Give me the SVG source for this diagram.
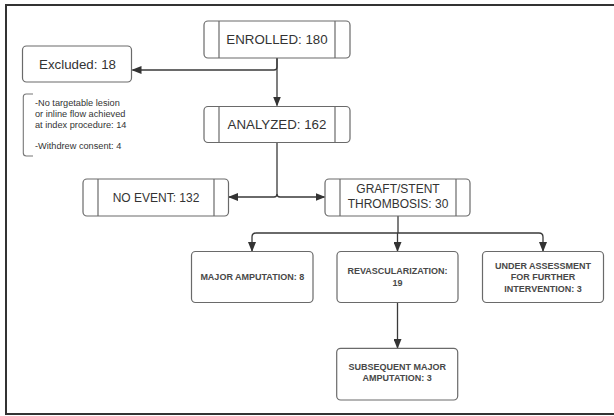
<svg xmlns="http://www.w3.org/2000/svg" width="614" height="416" viewBox="0 0 614 416">
<style>
.box{fill:#fff;stroke:#6a6a6a;stroke-width:1.2}
.in{stroke:#6a6a6a;stroke-width:1.2}
.t{font-family:"Liberation Sans",Arial,sans-serif;fill:#333;text-anchor:middle;dominant-baseline:central}
.big{font-size:13.3px}
.mid{font-size:12px}
.sm{font-size:9px;font-weight:bold;fill:#484848}
.note{font-family:"Liberation Sans",Arial,sans-serif;font-size:9.2px;fill:#333;dominant-baseline:central}
.c{fill:none;stroke:#3a3a3a;stroke-width:1.3}
</style>
<defs>
<marker id="ah" markerWidth="10" markerHeight="8" refX="9" refY="4" orient="auto" markerUnits="userSpaceOnUse">
<path d="M0,0 L10,4 L0,8 Z" fill="#333"/>
</marker>
</defs>
<rect width="614" height="416" fill="#fff"/>
<path d="M614,5 H6 V414 H614" fill="none" stroke="#333" stroke-width="2"/>

<g id="connectors">
<path class="c" d="M277,58 V105.5" marker-end="url(#ah)"/>
<path class="c" d="M277,58 V67 Q277,70 274,70 H132.5" marker-end="url(#ah)"/>
<path class="c" d="M277,142.5 V194 Q277,197 274,197 H229" marker-end="url(#ah)"/>
<path class="c" d="M277,194 Q277,197 280,197 H324.5" marker-end="url(#ah)"/>
<path class="c" d="M398,216 V233"/>
<path class="c" d="M398,233 H256 Q252,233 252,237 V251" marker-end="url(#ah)"/>
<path class="c" d="M398,233 H539 Q543,233 543,237 V251" marker-end="url(#ah)"/>
<path class="c" d="M397.5,233 V251" marker-end="url(#ah)"/>
<path class="c" d="M397.5,302.5 V348" marker-end="url(#ah)"/>
</g>

<g id="enrolled">
<rect class="box" x="204" y="21" width="146" height="37" rx="4"/>
<line class="in" x1="219" y1="21" x2="219" y2="58"/>
<line class="in" x1="335" y1="21" x2="335" y2="58"/>
<text class="t big" x="277" y="39.5">ENROLLED: 180</text>
</g>

<g id="excluded">
<rect class="box" x="22.5" y="46" width="109" height="36" rx="4"/>
<text class="t big" x="77.5" y="64">Excluded: 18</text>
</g>

<g id="exclusion-note">
<path d="M33,94 H26.3 Q23.3,94 23.3,97 V153 Q23.3,156 26.3,156 H33" fill="none" stroke="#777" stroke-width="1.1"/>
<text class="note" x="35" y="102.5">-No targetable lesion</text>
<text class="note" x="35" y="113.5">or inline flow achieved</text>
<text class="note" x="35" y="124.5">at index procedure: 14</text>
<text class="note" x="35" y="146">-Withdrew consent: 4</text>
</g>

<g id="analyzed">
<rect class="box" x="204" y="106.5" width="146" height="36" rx="4"/>
<line class="in" x1="219" y1="106.5" x2="219" y2="142.5"/>
<line class="in" x1="335" y1="106.5" x2="335" y2="142.5"/>
<text class="t big" x="277" y="124.5">ANALYZED: 162</text>
</g>

<g id="no-event">
<rect class="box" x="83" y="179" width="145.5" height="37" rx="4"/>
<line class="in" x1="98" y1="179" x2="98" y2="216"/>
<line class="in" x1="214" y1="179" x2="214" y2="216"/>
<text class="t mid" x="156" y="197.5">NO EVENT: 132</text>
</g>

<g id="thrombosis">
<rect class="box" x="325" y="179" width="145" height="37" rx="4"/>
<line class="in" x1="340" y1="179" x2="340" y2="216"/>
<line class="in" x1="456" y1="179" x2="456" y2="216"/>
<text class="t mid" x="398" y="188.5">GRAFT/STENT</text>
<text class="t mid" x="398" y="203.5">THROMBOSIS: 30</text>
</g>

<g id="major-amputation">
<rect class="box" x="191.5" y="251.5" width="121.5" height="51" rx="4"/>
<text class="t sm" x="252.3" y="277">MAJOR AMPUTATION: 8</text>
</g>

<g id="revascularization">
<rect class="box" x="337" y="251.5" width="121" height="51" rx="4"/>
<text class="t sm" x="397.5" y="271">REVASCULARIZATION:</text>
<text class="t sm" x="397.5" y="282.5">19</text>
</g>

<g id="under-assessment">
<rect class="box" x="482.5" y="251.5" width="121" height="51" rx="4"/>
<text class="t sm" x="543" y="265.5">UNDER ASSESSMENT</text>
<text class="t sm" x="543" y="277.3">FOR FURTHER</text>
<text class="t sm" x="543" y="289.3">INTERVENTION: 3</text>
</g>

<g id="subsequent-amputation">
<rect class="box" x="336.7" y="348.3" width="121" height="51.7" rx="4"/>
<text class="t sm" x="397.2" y="366.5">SUBSEQUENT MAJOR</text>
<text class="t sm" x="397.2" y="377.5">AMPUTATION: 3</text>
</g>
</svg>
